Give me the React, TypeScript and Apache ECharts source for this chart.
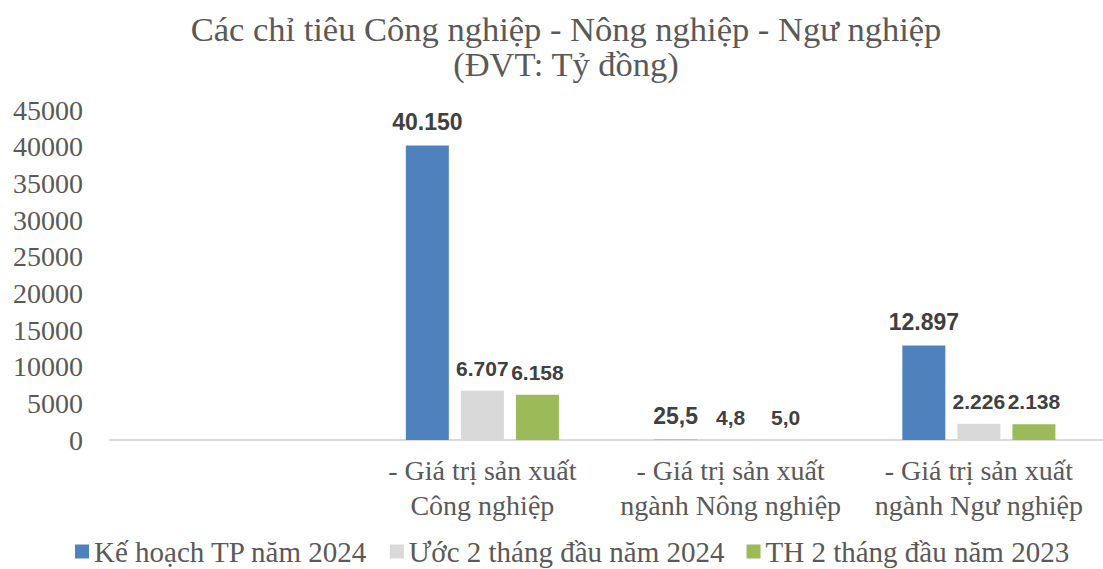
import React, { useEffect, useRef } from "react";
import * as echarts from "echarts";

const categories = [
  "",
  "- Giá trị sản xuất\nCông nghiệp",
  "- Giá trị sản xuất\nngành Nông nghiệp",
  "- Giá trị sản xuất\nngành Ngư nghiệp",
];
const seriesNames = [
  "Kế hoạch TP năm 2024",
  "Ước 2 tháng đầu năm 2024",
  "TH 2 tháng đầu năm 2023",
];
const keHoach = [null, 40150, 25.5, 12897];
const uoc = [null, 6707, 4.8, 2226];
const th2023 = [null, 6158, 5.0, 2138];
const keHoachLabels = ["", "40.150", "25,5", "12.897"];
const uocLabels = ["", "6.707", "4,8", "2.226"];
const thLabels = ["", "6.158", "5,0", "2.138"];
const yTicks = { min: 0, max: 45000, interval: 5000 };

const colors = ["#4f81bd", "#d9d9d9", "#9bbb59"];
const serif = "Liberation Serif, Times New Roman, serif";

export default function App() {
  const ref = useRef<HTMLDivElement>(null);
  useEffect(() => {
    document.body.style.margin = "0";
    const chart = echarts.init(ref.current!, null, { renderer: "svg" });
    const mk = (
      name: string,
      data: (number | null)[],
      labels: string[],
      color: string,
      fontSize: number
    ) => ({
      name,
      type: "bar",
      data,
      barWidth: 43,
      barGap: "28%",
      itemStyle: { color },
      label: {
        show: true,
        position: "top",
        distance: 12,
        formatter: (p: any) => labels[p.dataIndex],
        fontFamily: "Liberation Sans, Arial, sans-serif",
        fontWeight: "bold",
        fontSize,
        color: "#404040",
      },
    });
    chart.setOption({
      animation: false,
      color: colors,
      title: {
        text: "Các chỉ tiêu Công nghiệp - Nông nghiệp - Ngư nghiệp\n(ĐVT: Tỷ đồng)",
        left: 561,
        textAlign: "center",
        top: 6,
        textStyle: {
          fontFamily: serif,
          fontWeight: "normal",
          fontSize: 34.5,
          lineHeight: 35,
          color: "#595959",
        },
      },
      legend: {
        bottom: -2,
        left: 70,
        itemWidth: 14,
        itemHeight: 14,
        itemGap: 22,
        icon: "rect",
        textStyle: {
          fontFamily: serif,
          fontSize: 29,
          color: "#595959",
        },
        data: seriesNames,
      },
      grid: { left: 110, right: 0, top: 110, bottom: 129, containLabel: false },
      xAxis: {
        type: "category",
        data: categories,
        axisLine: { lineStyle: { color: "#d9d9d9", width: 2 } },
        axisTick: { show: false },
        axisLabel: {
          fontFamily: serif,
          fontSize: 28,
          lineHeight: 35,
          color: "#595959",
          margin: 13,
          interval: 0,
        },
      },
      yAxis: {
        type: "value",
        ...yTicks,
        splitLine: { show: false },
        axisLine: { show: false },
        axisTick: { show: false },
        axisLabel: {
          fontFamily: serif,
          fontSize: 28,
          color: "#595959",
          margin: 27,
          formatter: (v: number) => String(v),
        },
      },
      series: [
        mk(seriesNames[0], keHoach, keHoachLabels, colors[0], 23),
        mk(seriesNames[1], uoc, uocLabels, colors[1], 21),
        mk(seriesNames[2], th2023, thLabels, colors[2], 21),
      ],
    });
    return () => chart.dispose();
  }, []);
  return (
    <div
      ref={ref}
      style={{ position: "absolute", left: 0, top: 0, width: 1103, height: 569 }}
    />
  );
}
